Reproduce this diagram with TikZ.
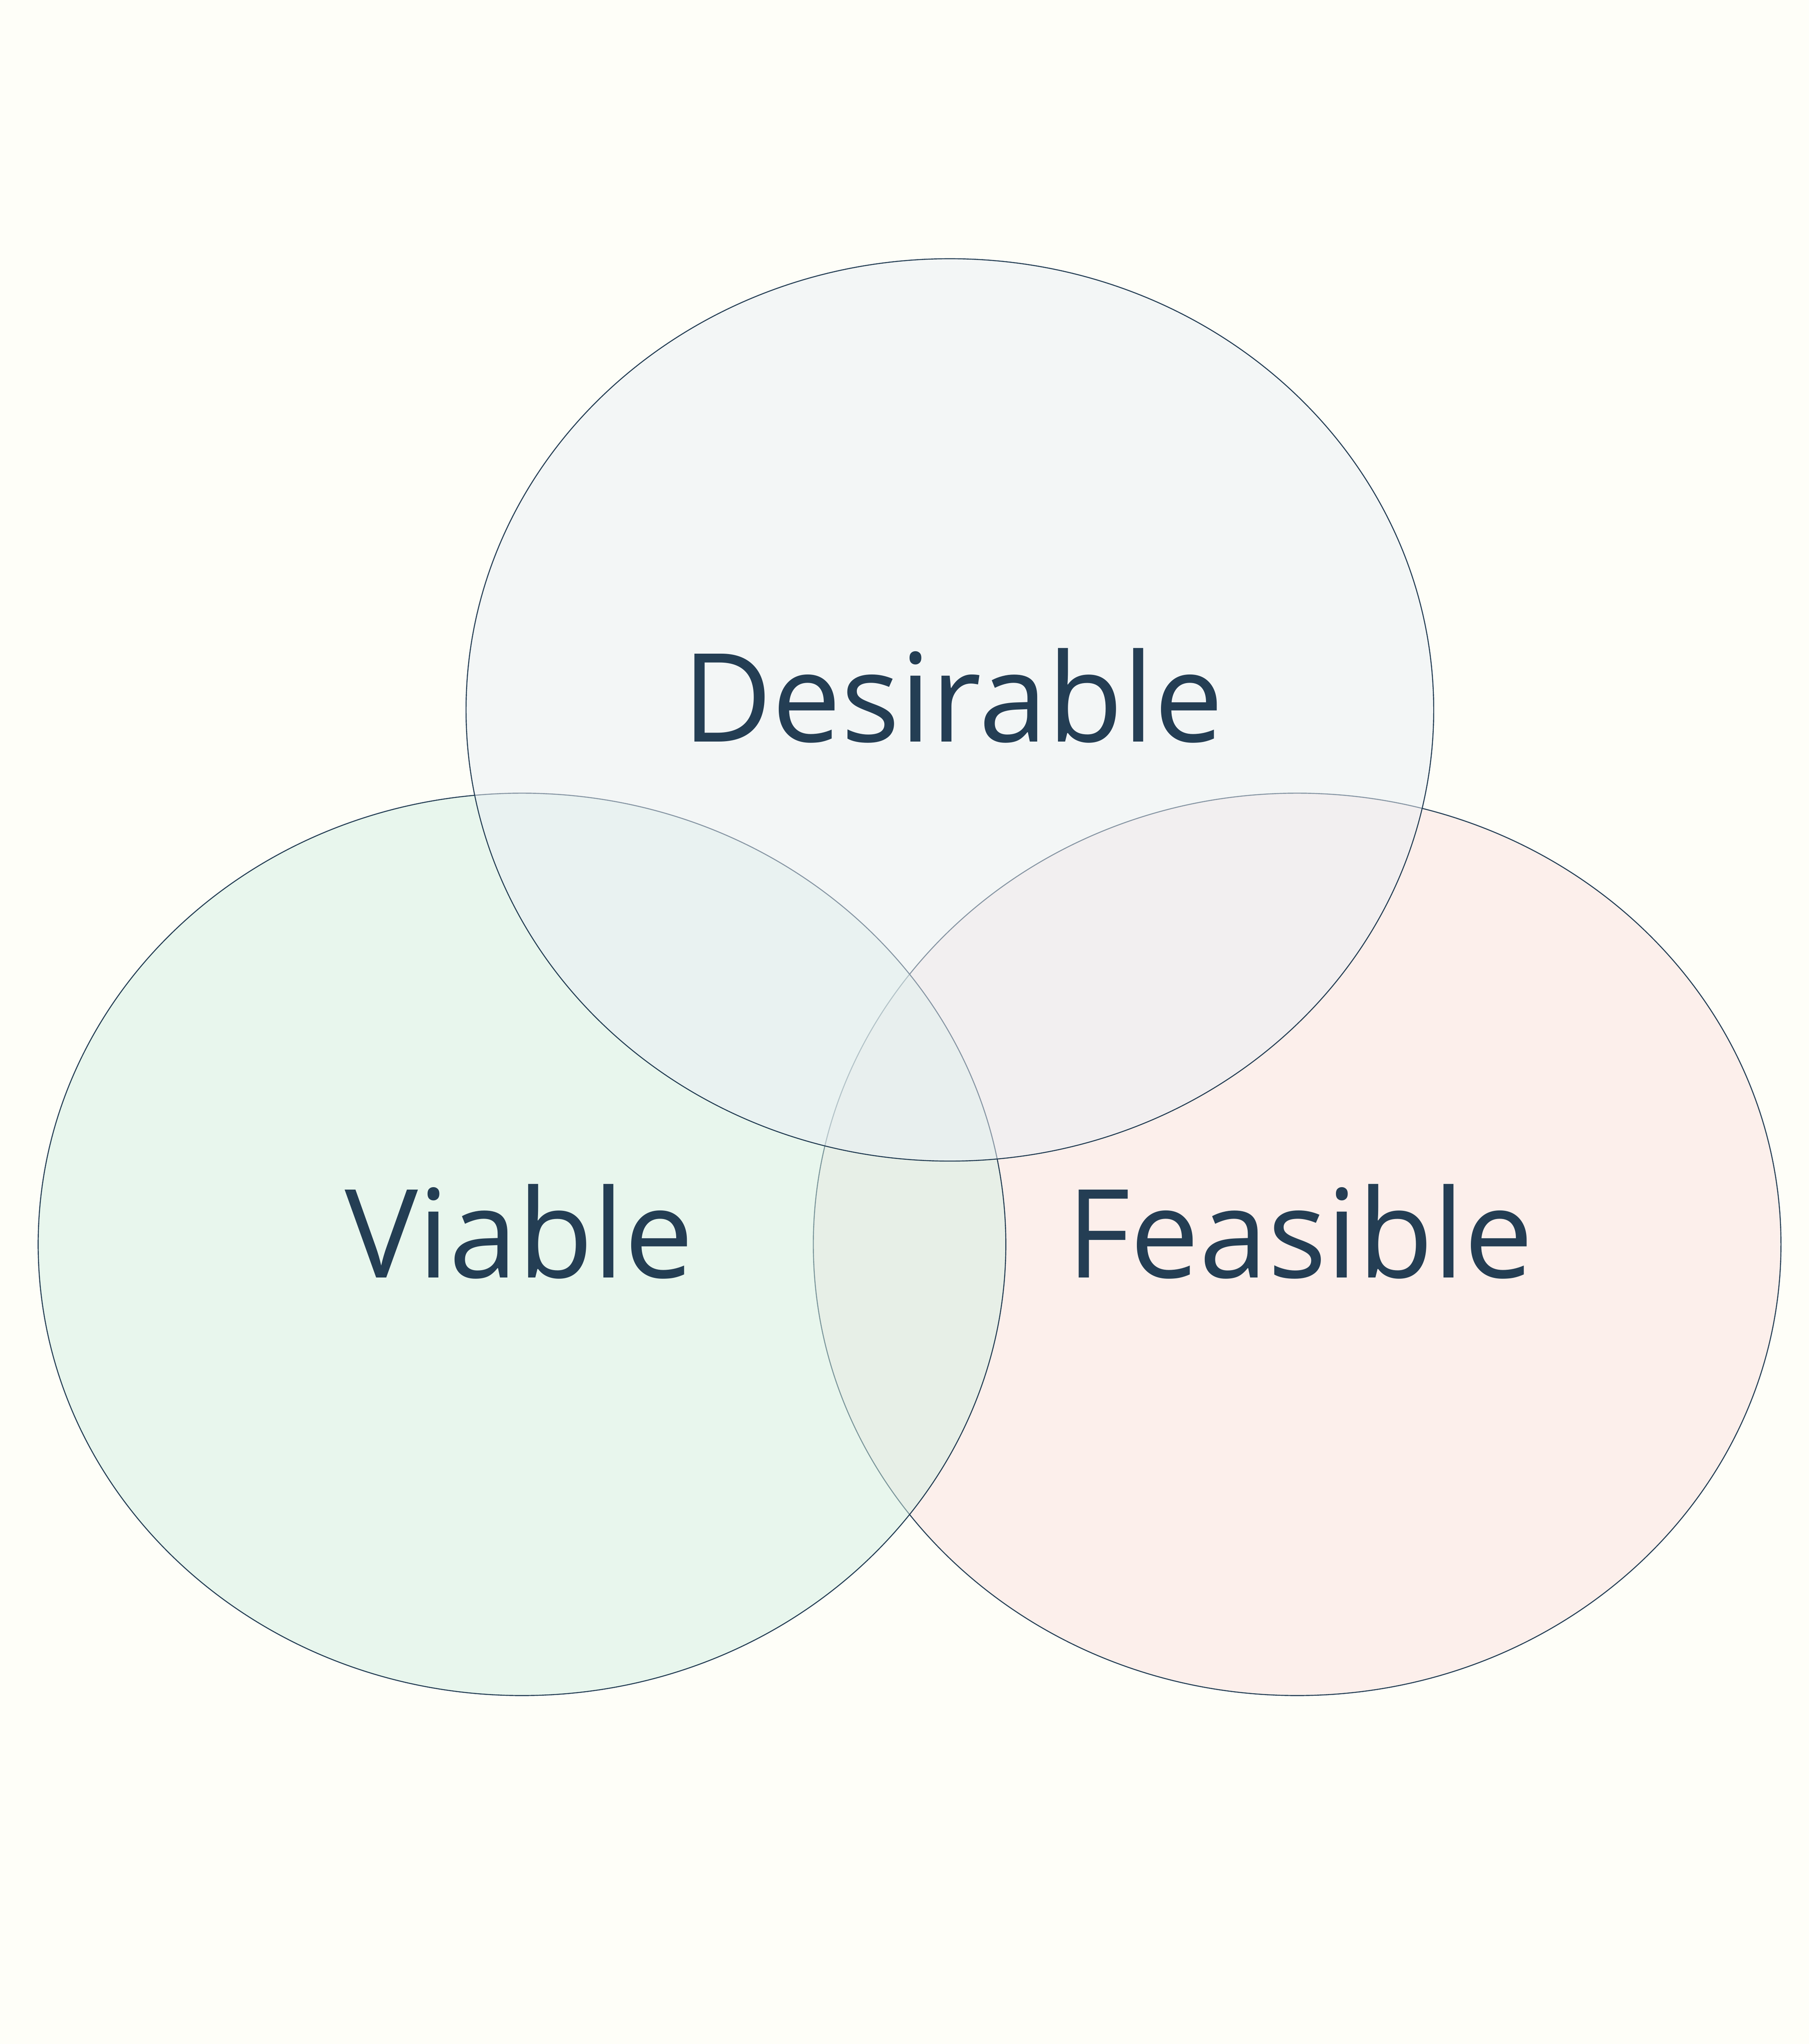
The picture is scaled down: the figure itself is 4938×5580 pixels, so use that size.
\documentclass[tikz,border=0pt]{standalone}
\usepackage{fontspec}
\setmainfont{Open Sans}
\usetikzlibrary{shapes.geometric}
\definecolor{bgc}{HTML}{FEFEF8}
\definecolor{ink}{HTML}{243E54}
\definecolor{cD}{HTML}{EAEFF5}
\definecolor{cV}{HTML}{D4F0E4}
\definecolor{cF}{HTML}{FCE2E0}
\tikzset{
  venn/.style={ellipse, draw=ink, line width=0.027cm, inner sep=0pt, outer sep=0pt,
    minimum width=26.4cm, minimum height=24.62cm, fill opacity=0.5},
  lbl/.style={text=ink, anchor=base, inner sep=0pt, font=\fontsize{95.6pt}{110pt}\selectfont}
}
\begin{document}
\begin{tikzpicture}[x=0.01cm,y=-0.01cm]
\useasboundingbox (0,0) rectangle (4938,5580);
\fill[bgc] (0,0) rectangle (4938,5580);
\node[venn, fill=cF] (F) at (3541,3397) {};
\node[venn, fill=cV] (V) at (1425,3397) {};
\node[venn, fill=cD] (D) at (2593,1938) {};
\node[lbl] (tD) at (2601,2025) {Desirable};
\node[lbl] (tV) at (1417,3488) {Viable};
\node[lbl] (tF) at (3549,3488) {Feasible};
\end{tikzpicture}
\end{document}
